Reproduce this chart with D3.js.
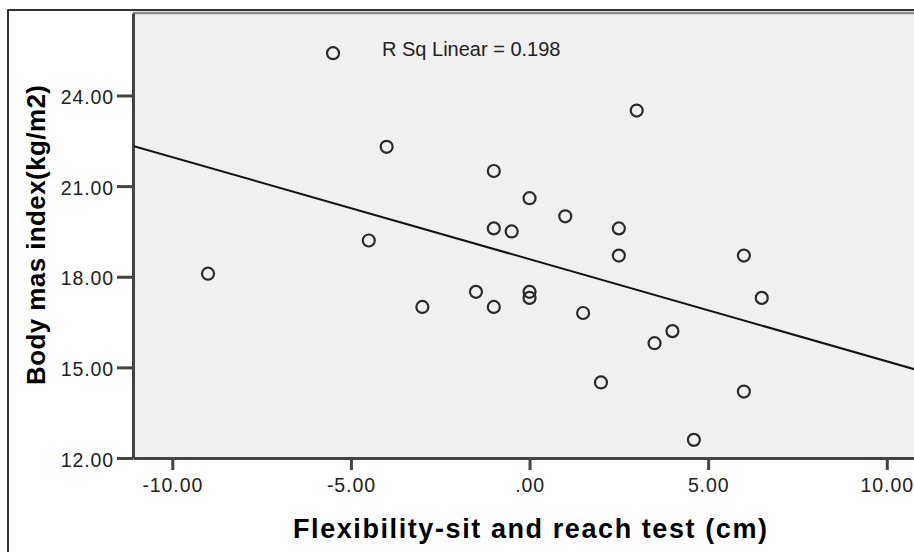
<!DOCTYPE html>
<html>
<head>
<meta charset="utf-8">
<script src="https://cdn.jsdelivr.net/npm/d3@7"></script>
<style>
  body { margin: 0; background: #fff; }
  svg { display: block; }
</style>
</head>
<body>
<div id="chart"></div>
<script>
// DATA -----------------------------------------------------------------------
const flexibility = [-5.5, -4.0, 3.0, -1.0, 0.0, 1.0, -1.0, -0.5, 2.5, 2.5, 6.0, -4.5, -9.0,
                     -1.5, 0.0, 0.0, -1.0, -3.0, 1.5, 6.5, 4.0, 3.5, 2.0, 6.0, 4.6]
const bmi         = [25.4, 22.3, 23.5, 21.5, 20.6, 20.0, 19.6, 19.5, 19.6, 18.7, 18.7, 19.2, 18.1,
                     17.5, 17.5, 17.3, 17.0, 17.0, 16.8, 17.3, 16.2, 15.8, 14.5, 14.2, 12.6]
const xTicks = [-10, -5, 0, 5, 10]
const yTicks = [12, 15, 18, 21, 24]
const xDomain = [-11.10, 10.93]
const yDomain = [12, 26.73]
const xTitle = "Flexibility-sit and reach test (cm)"
const yTitle = "Body mas index(kg/m2)"

// LAYOUT ---------------------------------------------------------------------
const width = 914, height = 552
const plot = { left: 133, top: 13, right: 920, bottom: 458 }

const svg = d3.select("#chart").append("svg")
  .attr("width", width)
  .attr("height", height)

// outer frame (runs off the picture at right and bottom)
svg.append("rect")
  .attr("x", 8).attr("y", 10)
  .attr("width", 940).attr("height", 600)
  .attr("fill", "none")
  .attr("stroke", "#000")
  .attr("stroke-width", 1.6)

const x = d3.scaleLinear().domain(xDomain).range([plot.left, plot.right])
const y = d3.scaleLinear().domain(yDomain).range([plot.bottom, plot.top])

// plot background
svg.append("rect")
  .attr("x", plot.left).attr("y", plot.top)
  .attr("width", plot.right - plot.left).attr("height", plot.bottom - plot.top)
  .attr("fill", "#f0f0f0")

svg.append("line")
  .attr("x1", plot.left).attr("x2", plot.right)
  .attr("y1", plot.top).attr("y2", plot.top)
  .attr("stroke", "#8a8a8a").attr("stroke-width", 2.5)

svg.append("clipPath").attr("id", "clip")
  .append("rect")
  .attr("x", plot.left).attr("y", plot.top)
  .attr("width", plot.right - plot.left).attr("height", plot.bottom - plot.top)

// number format as SPSS shows it: ".00", "-5.00" (plain hyphen)
const fmt = v => d3.format(".2f")(v).replace("−", "-").replace(/^(-?)0\./, "$1.")

// AXES -----------------------------------------------------------------------
const xAxis = svg.append("g")
  .attr("transform", `translate(0,${plot.bottom})`)
  .call(d3.axisBottom(x).tickValues(xTicks).tickFormat(fmt).tickSize(12).tickSizeOuter(0).tickPadding(8))

const yAxis = svg.append("g")
  .attr("transform", `translate(${plot.left},0)`)
  .call(d3.axisLeft(y).tickValues(yTicks).tickFormat(fmt).tickSize(16).tickSizeOuter(0).tickPadding(3))

;[xAxis, yAxis].forEach(g => {
  g.select(".domain").attr("stroke", "#444").attr("stroke-width", 3)
  g.selectAll(".tick line").attr("stroke", "#444").attr("stroke-width", 3)
  g.selectAll(".tick text")
    .attr("fill", "#222")
    .style("font-family", "'Liberation Sans', Arial, sans-serif")
    .style("font-size", "19.5px")
    .style("letter-spacing", "0.9px")
})
yAxis.selectAll(".tick text").attr("dy", "0.42em")

// FIT LINE -------------------------------------------------------------------
const mx = d3.mean(flexibility), my = d3.mean(bmi)
const sxy = d3.sum(flexibility, (v, i) => (v - mx) * (bmi[i] - my))
const sxx = d3.sum(flexibility, v => (v - mx) * (v - mx))
const syy = d3.sum(bmi, v => (v - my) * (v - my))
const slope = sxy / sxx
const intercept = my - slope * mx
const rSq = (sxy * sxy) / (sxx * syy)

svg.append("line")
  .attr("clip-path", "url(#clip)")
  .attr("x1", x(xDomain[0])).attr("y1", y(intercept + slope * xDomain[0]))
  .attr("x2", x(xDomain[1])).attr("y2", y(intercept + slope * xDomain[1]))
  .attr("stroke", "#111")
  .attr("stroke-width", 2)

// POINTS ---------------------------------------------------------------------
svg.append("g")
  .selectAll("circle")
  .data(flexibility.map((v, i) => ({ x: v, y: bmi[i] })))
  .join("circle")
  .attr("cx", d => x(d.x))
  .attr("cy", d => y(d.y))
  .attr("r", 6)
  .attr("fill", "none")
  .attr("stroke", "#2a2a2a")
  .attr("stroke-width", 2.2)

// LABELS ---------------------------------------------------------------------
svg.append("text")
  .attr("x", 382).attr("y", 56)
  .attr("fill", "#222")
  .style("font-family", "'Liberation Sans', Arial, sans-serif")
  .style("font-size", "20px")
  .text(`R Sq Linear = ${rSq.toFixed(3)}`)

svg.append("text")
  .attr("x", 530).attr("y", 538)
  .attr("text-anchor", "middle")
  .attr("textLength", 474)
  .attr("lengthAdjust", "spacing")
  .style("font-family", "'Liberation Sans', Arial, sans-serif")
  .style("font-weight", "bold")
  .style("font-size", "27px")
  .text(xTitle)

svg.append("text")
  .attr("transform", "translate(45,235) rotate(-90)")
  .attr("text-anchor", "middle")
  .attr("textLength", 300)
  .attr("lengthAdjust", "spacing")
  .style("font-family", "'Liberation Sans', Arial, sans-serif")
  .style("font-weight", "bold")
  .style("font-size", "26px")
  .text(yTitle)
</script>
</body>
</html>
